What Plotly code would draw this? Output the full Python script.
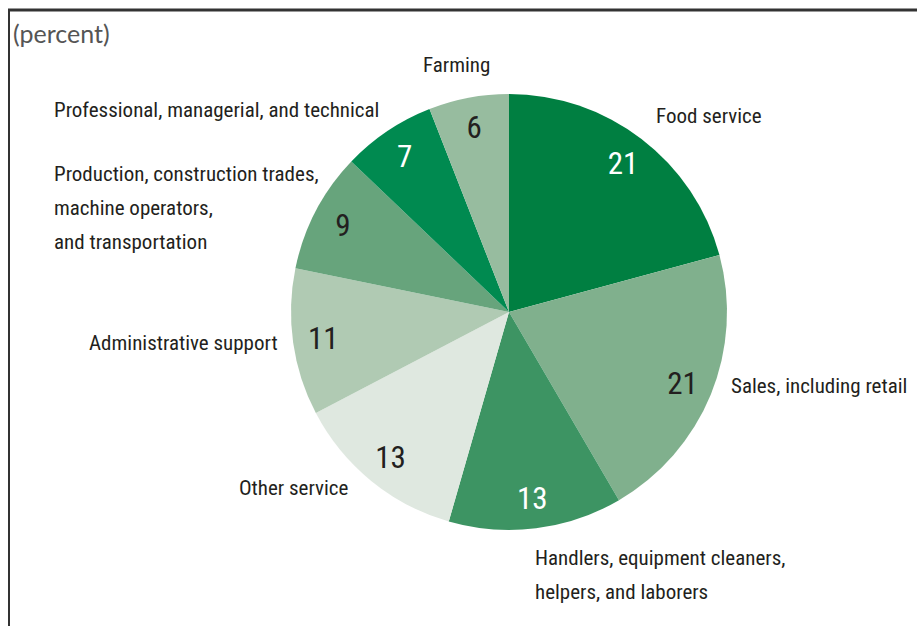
import plotly.graph_objects as go

categories = [
    "Food service",
    "Sales, including retail",
    "Handlers, equipment cleaners, helpers, and laborers",
    "Other service",
    "Administrative support",
    "Production, construction trades, machine operators, and transportation",
    "Professional, managerial, and technical",
    "Farming",
]
values = [21, 21, 13, 13, 11, 9, 7, 6]
colors = ["#007f41", "#80b08d", "#3d9463", "#dfe8e0", "#b0cab3", "#67a47c", "#008a50", "#97bc9f"]
value_text_colors = ["white", "#231f20", "white", "#231f20", "#231f20", "#231f20", "white", "#231f20"]

FONT = "Liberation Sans Narrow, Roboto Condensed, Arial Narrow, sans-serif"

W, H = 917, 626
cx, cy, R = 509, 312, 218
dom_x = [(cx - R) / W, (cx + R) / W]
dom_y = [(H - cy - R) / H, (H - cy + R) / H]

fig = go.Figure()
fig.add_trace(go.Pie(
    labels=categories, values=values, sort=False, direction="clockwise", rotation=0,
    marker=dict(colors=colors, line=dict(width=0)),
    textinfo="none", hoverinfo="label+value", showlegend=False,
    domain=dict(x=dom_x, y=dom_y),
))
fig.add_trace(go.Pie(
    labels=categories, values=values, sort=False, direction="clockwise", rotation=0,
    hole=0.72,
    marker=dict(colors=["rgba(0,0,0,0)"] * len(values), line=dict(width=0)),
    texttemplate="%{value}", textposition="inside", insidetextorientation="horizontal",
    textfont=dict(family=FONT, size=31, color=value_text_colors),
    hoverinfo="skip", showlegend=False,
    domain=dict(x=dom_x, y=dom_y),
))

# (text lines, x, first-line y, anchor)
label_specs = [
    (["Farming"], 456, 65, "center"),
    (["Food service"], 654, 116, "left"),
    (["Professional, managerial, and technical"], 381, 110, "right"),
    (["Production, construction trades,", "machine operators,", "and transportation"], 52, 174, "left"),
    (["Administrative support"], 280, 343, "right"),
    (["Other service"], 351, 488, "right"),
    (["Sales, including retail"], 729, 386, "left"),
    (["Handlers, equipment cleaners,", "helpers, and laborers"], 533, 558, "left"),
]
LINE_GAP = 34
anns = []
for lines, x, y, anc in label_specs:
    for i, line in enumerate(lines):
        anns.append(dict(
            text=line, x=x / W, y=1 - (y + i * LINE_GAP) / H, xref="paper", yref="paper",
            xanchor=anc, yanchor="middle", showarrow=False,
            font=dict(family=FONT, size=21, color="#231f20"),
        ))
anns.append(dict(
    text="(percent)", x=11 / W, y=1 - 33 / H, xref="paper", yref="paper",
    xanchor="left", yanchor="middle", showarrow=False,
    font=dict(family="Lato, sans-serif", size=25, color="#555555"),
))

shapes = [
    dict(type="line", xref="paper", yref="paper", x0=8 / W, x1=1, y0=1 - 10 / H, y1=1 - 10 / H,
         line=dict(color="#333333", width=3)),
    dict(type="line", xref="paper", yref="paper", x0=9 / W, x1=9 / W, y0=1 - 10 / H, y1=0,
         line=dict(color="#333333", width=2)),
]

fig.update_layout(
    width=W, height=H, margin=dict(l=0, r=0, t=0, b=0),
    paper_bgcolor="white", plot_bgcolor="white",
    annotations=anns, shapes=shapes,
    uniformtext=dict(minsize=31, mode="show"),
)
fig.write_html("out.html")
